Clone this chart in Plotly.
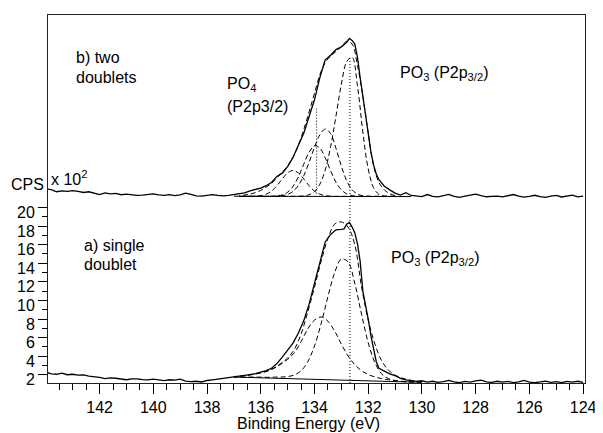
import plotly.graph_objects as go

# ---------------- data (CPS in units of 10^2) ----------------
# b) upper spectrum: measured scan
scan_b_ev = [144.0, 143.8, 143.6, 143.4, 143.2, 143.0, 142.8, 142.6, 142.4, 142.2,
             142.0, 141.8, 141.6, 141.4, 141.2, 141.0, 140.8, 140.6, 140.4, 140.2,
             140.0, 139.8, 139.6, 139.4, 139.2, 139.0, 138.8, 138.6, 138.4, 138.2,
             138.0, 137.8, 137.6, 137.4, 137.2, 137.0, 136.8, 136.6, 136.4, 136.2,
             136.0, 135.8, 135.6, 135.4, 135.2, 135.0, 134.8, 134.6, 134.4, 134.2,
             134.0, 133.8, 133.6, 133.4, 133.2, 133.0, 132.8, 132.7, 132.6, 132.5,
             132.4, 132.3, 132.2, 132.1, 132.0, 131.9, 131.8, 131.7, 131.6, 131.4,
             131.2, 131.0, 130.8, 130.6, 130.4, 130.2, 130.0, 129.8, 129.6, 129.4,
             129.2, 129.0, 128.8, 128.6, 128.4, 128.2, 128.0, 127.8, 127.6, 127.4,
             127.2, 127.0, 126.8, 126.6, 126.4, 126.2, 126.0, 125.8, 125.6, 125.4,
             125.2, 125.0, 124.8, 124.6, 124.4, 124.2, 124.0]
scan_b_cps = [22.03, 21.92, 21.70, 21.80, 21.75, 21.82, 21.74, 21.62, 21.70, 21.55,
              21.40, 21.58, 21.48, 21.52, 21.38, 21.44, 21.36, 21.30, 21.34, 21.42,
              21.48, 21.36, 21.32, 21.40, 21.28, 21.36, 21.56, 21.42, 21.26, 21.22,
              21.34, 21.40, 21.30, 21.26, 21.32, 21.40, 21.48, 21.58, 21.80, 21.95,
              22.10, 22.35, 22.70, 23.35, 23.70, 24.40, 25.40, 26.70, 28.00, 29.80,
              31.60, 34.00, 35.90, 36.40, 37.00, 37.30, 37.80, 38.20, 38.00, 37.60,
              36.20, 34.00, 32.00, 30.00, 28.10, 26.00, 24.60, 23.60, 23.00, 22.30,
              21.90, 21.55, 21.35, 21.60, 21.30, 21.22, 21.18, 21.40, 21.20, 21.15,
              21.30, 21.42, 21.20, 21.10, 21.22, 21.36, 21.45, 21.28, 21.16, 21.20,
              21.24, 21.14, 21.30, 21.40, 21.22, 21.12, 21.20, 21.32, 21.18, 21.10,
              21.24, 21.30, 21.14, 21.20, 21.34, 21.15, 21.22]

# b) fit components (two doublets)
fit_b_ev = [131.0, 131.2, 131.4, 131.6, 131.8, 132.0, 132.2, 132.4, 132.6, 132.8,
            133.0, 133.2, 133.4, 133.6, 133.8, 134.0, 134.2, 134.4, 134.6, 134.8,
            135.0, 135.2, 135.4, 135.6, 135.8, 136.0, 136.2, 136.4, 136.6, 136.8]
po3_32_b = [21.20, 21.21, 21.24, 21.42, 22.13, 24.17, 28.13, 33.09, 36.18, 35.71,
            33.26, 29.85, 26.55, 24.05, 22.51, 21.72, 21.38, 21.25, 21.21, 21.20,
            21.20, 21.20, 21.20, 21.20, 21.20, 21.20, 21.20, 21.20, 21.20, 21.20]
po3_12_b = [21.20, 21.20, 21.20, 21.20, 21.20, 21.22, 21.27, 21.45, 21.91, 22.88,
            24.45, 26.38, 27.96, 28.45, 27.83, 26.49, 24.88, 23.43, 22.38, 21.74,
            21.42, 21.28, 21.22, 21.20, 21.20, 21.20, 21.20, 21.20, 21.20, 21.20]
po4_32_b = [21.20, 21.20, 21.20, 21.20, 21.20, 21.20, 21.20, 21.22, 21.29, 21.47,
            21.91, 22.73, 23.96, 25.35, 26.40, 26.64, 25.95, 24.66, 23.30, 22.27,
            21.65, 21.36, 21.25, 21.21, 21.20, 21.20, 21.20, 21.20, 21.20, 21.20]
po4_12_b = [21.20, 21.20, 21.20, 21.20, 21.20, 21.20, 21.20, 21.20, 21.20, 21.20,
            21.20, 21.20, 21.22, 21.28, 21.44, 21.77, 22.35, 23.08, 23.73, 23.99,
            23.73, 23.08, 22.35, 21.77, 21.44, 21.28, 21.22, 21.20, 21.20, 21.20]
envelope_b = [21.30, 21.50, 21.90, 22.70, 24.50, 28.00, 32.00, 35.30, 37.60, 37.90,
              37.30, 36.80, 36.30, 35.60, 34.30, 32.30, 30.30, 28.40, 26.70, 25.40,
              24.50, 23.80, 23.20, 22.60, 22.20, 21.85, 21.60, 21.45, 21.35, 21.30]
background_b_ev = [130.4, 137.0]
background_b = [21.18, 21.22]

# a) lower spectrum: measured scan
scan_a_ev = [144.0, 143.8, 143.6, 143.4, 143.2, 143.0, 142.8, 142.6, 142.4, 142.2,
             142.0, 141.8, 141.6, 141.4, 141.2, 141.0, 140.8, 140.6, 140.4, 140.2,
             140.0, 139.8, 139.6, 139.4, 139.2, 139.0, 138.8, 138.6, 138.4, 138.2,
             138.0, 137.8, 137.6, 137.4, 137.2, 137.0, 136.8, 136.6, 136.4, 136.2,
             136.0, 135.8, 135.6, 135.4, 135.2, 135.0, 134.8, 134.6, 134.4, 134.2,
             134.0, 133.8, 133.6, 133.4, 133.2, 133.0, 132.9, 132.8, 132.7, 132.6,
             132.5, 132.4, 132.3, 132.2, 132.1, 132.0, 131.9, 131.8, 131.7, 131.6,
             131.4, 131.2, 131.0, 130.8, 130.6, 130.4, 130.2, 130.0, 129.8, 129.6,
             129.4, 129.2, 129.0, 128.8, 128.6, 128.4, 128.2, 128.0, 127.8, 127.6,
             127.4, 127.2, 127.0, 126.8, 126.6, 126.4, 126.2, 126.0, 125.8, 125.6,
             125.4, 125.2, 125.0, 124.8, 124.6, 124.4, 124.2, 124.0]
scan_a_cps = [2.30, 2.10, 2.05, 2.18, 2.00, 2.05, 1.95, 1.98, 1.86, 1.80,
              1.72, 1.58, 1.66, 1.62, 1.50, 1.46, 1.55, 1.56, 1.48, 1.44,
              1.52, 1.40, 1.36, 1.46, 1.42, 1.52, 1.32, 1.26, 1.30, 1.22,
              1.38, 1.45, 1.52, 1.60, 1.68, 1.75, 1.82, 1.95, 2.02, 2.12,
              2.28, 2.45, 2.70, 3.20, 3.90, 4.65, 5.40, 6.50, 7.80, 9.60,
              11.80, 14.30, 16.30, 17.10, 17.60, 17.65, 17.70, 18.20, 18.40, 17.90,
              17.30, 16.10, 14.20, 11.00, 9.60, 8.00, 6.20, 4.80, 3.40, 2.70,
              2.40, 2.10, 1.90, 1.60, 1.45, 1.38, 1.28, 1.35, 1.20, 1.30,
              1.18, 1.25, 1.40, 1.22, 1.15, 1.28, 1.20, 1.34, 1.42, 1.22,
              1.18, 1.30, 1.20, 1.28, 1.16, 1.24, 1.38, 1.20, 1.14, 1.22,
              1.32, 1.18, 1.26, 1.15, 1.28, 1.20, 1.30, 1.18]

# a) fit components (single doublet)
fit_a_ev = [130.0, 130.25, 130.5, 130.75, 131.0, 131.25, 131.5, 131.75, 132.0, 132.25,
            132.5, 132.75, 133.0, 133.25, 133.5, 133.75, 134.0, 134.25, 134.5, 134.75,
            135.0, 135.25, 135.5, 135.75, 136.0, 136.25, 136.5, 136.75, 137.0]
background_a = [1.20, 1.20, 1.20, 1.22, 1.25, 1.27, 1.30, 1.32, 1.35, 1.37,
                1.40, 1.42, 1.45, 1.47, 1.50, 1.52, 1.55, 1.57, 1.60, 1.62,
                1.65, 1.67, 1.70, 1.72, 1.74, 1.75, 1.75, 1.75, 1.75]
po3_32_a = [1.20, 1.21, 1.22, 1.27, 1.37, 1.59, 2.09, 3.29, 5.45, 8.53,
            11.84, 14.14, 14.45, 12.98, 10.41, 7.54, 5.10, 3.40, 2.43, 1.98,
            1.80, 1.75, 1.74, 1.72, 1.74, 1.75, 1.75, 1.75, 1.75]
po3_12_a = [1.22, 1.23, 1.25, 1.30, 1.37, 1.46, 1.58, 1.76, 2.02, 2.44,
            3.08, 4.03, 5.30, 6.70, 7.76, 8.22, 7.88, 6.93, 5.55, 4.37,
            3.65, 3.14, 2.70, 2.39, 2.21, 2.05, 1.95, 1.85, 1.80]
envelope_a = [1.25, 1.32, 1.45, 1.65, 1.95, 2.50, 3.50, 5.30, 7.90, 11.50,
              16.00, 17.90, 18.45, 18.21, 16.67, 14.24, 11.43, 8.76, 6.38, 4.73,
              3.80, 3.22, 2.74, 2.39, 2.21, 2.05, 1.95, 1.85, 1.80]

# peak position markers (dotted)
marker_po3_ev = [132.68, 132.68]
marker_po3_cps = [1.11, 36.3]
marker_po4_ev = [133.92, 133.92]
marker_po4_cps = [21.5, 30.75]

x_tick_vals = [142, 140, 138, 136, 134, 132, 130, 128, 126, 124]
y_tick_vals = [2, 4, 6, 8, 10, 12, 14, 16, 18, 20]
y_minor_vals = [3, 5, 7, 9, 11, 13, 15, 17, 19]

# ---------------- figure ----------------
# the page body has an 8px margin, so the figure is drawn at (8, 8)
OFF = 8
W, H = 603 - OFF, 433 - OFF
ML, MR, MT, MB = 48 - OFF, 13, 14 - OFF, 50
FONT = "Liberation Sans, Arial, sans-serif"


def px(xp):
    return (xp - OFF - ML) / (W - ML - MR)


def py(yp):
    return (H - MB - (yp - OFF)) / (H - MT - MB)


fig = go.Figure()

solid = dict(color="black", width=1.3)
dash = dict(color="black", width=1, dash="5px,3px", shape="spline")
dot = dict(color="black", width=1, dash="1px,2px")

# upper (b)
fig.add_trace(go.Scatter(x=background_b_ev, y=background_b, mode="lines", line=dict(color="black", width=1)))
for comp in (po3_32_b, po3_12_b, po4_32_b, po4_12_b):
    fig.add_trace(go.Scatter(x=fit_b_ev, y=comp, mode="lines", line=dash))
fig.add_trace(go.Scatter(x=fit_b_ev, y=envelope_b, mode="lines", line=dash))
fig.add_trace(go.Scatter(x=scan_b_ev, y=scan_b_cps, mode="lines", line=solid))

# lower (a)
fig.add_trace(go.Scatter(x=fit_a_ev, y=background_a, mode="lines", line=dict(color="black", width=1)))
for comp in (po3_32_a, po3_12_a):
    fig.add_trace(go.Scatter(x=fit_a_ev, y=comp, mode="lines", line=dash))
fig.add_trace(go.Scatter(x=fit_a_ev, y=envelope_a, mode="lines", line=dash))
fig.add_trace(go.Scatter(x=scan_a_ev, y=scan_a_cps, mode="lines", line=solid))

# dotted markers
fig.add_trace(go.Scatter(x=marker_po3_ev, y=marker_po3_cps, mode="lines", line=dot))
fig.add_trace(go.Scatter(x=marker_po4_ev, y=marker_po4_cps, mode="lines", line=dot))

ann_font = dict(family=FONT, size=16, color="black")


def label(text, xp, yp, xanchor="left"):
    fig.add_annotation(text=text, xref="paper", yref="paper", x=px(xp), y=py(yp),
                       xanchor=xanchor, yanchor="middle", showarrow=False,
                       font=ann_font, align="left")


label("b) two", 74, 57)
label("doublets", 74, 77)
label("PO<sub>4</sub>", 227, 84)
label("(P2p3/2)", 227, 106)
label("PO<sub>3</sub> (P2p<sub>3/2</sub>)", 401, 73)
label("a) single", 82, 245)
label("doublet", 82, 264)
label("PO<sub>3</sub> (P2p<sub>3/2</sub>)", 392, 258)
label("CPS", 46, 184, xanchor="right")
label("x 10<sup>2</sup>", 49, 177)
fig.add_annotation(text="Binding Energy (eV)", xref="paper", yref="paper",
                   x=px(311), y=py(424), xanchor="center", yanchor="middle",
                   showarrow=False, font=dict(family=FONT, size=16, color="black"))

fig.update_layout(
    width=W, height=H,
    margin=dict(l=ML, r=MR, t=MT, b=MB),
    paper_bgcolor="white", plot_bgcolor="white",
    showlegend=False,
    font=dict(family=FONT, size=16, color="black"),
)
fig.update_xaxes(
    range=[143.92, 123.93],
    tickmode="array", tickvals=x_tick_vals, ticktext=[str(v) for v in x_tick_vals],
    ticks="outside", ticklen=10, tickwidth=1, tickcolor="black",
    showline=True, linecolor="#222", linewidth=1, mirror=True,
    showgrid=False, zeroline=False,
    tickfont=dict(family=FONT, size=16, color="black"),
    minor=dict(dtick=0.5, tick0=124, ticks="outside", ticklen=6, tickwidth=1,
               tickcolor="black", showgrid=False),
)
fig.update_yaxes(
    range=[1.11, 40.73],
    tickmode="array", tickvals=y_tick_vals, ticktext=[str(v) for v in y_tick_vals],
    ticks="outside", ticklen=9, tickwidth=1, tickcolor="black",
    showline=True, linecolor="#222", linewidth=1, mirror=True,
    showgrid=False, zeroline=False,
    ticklabelshift=5, ticklabelstandoff=0,
    tickfont=dict(family=FONT, size=16, color="black"),
    minor=dict(tickmode="array", tickvals=y_minor_vals, ticks="outside", ticklen=5,
               tickwidth=1, tickcolor="black", showgrid=False),
)

fig.write_html("out.html")
